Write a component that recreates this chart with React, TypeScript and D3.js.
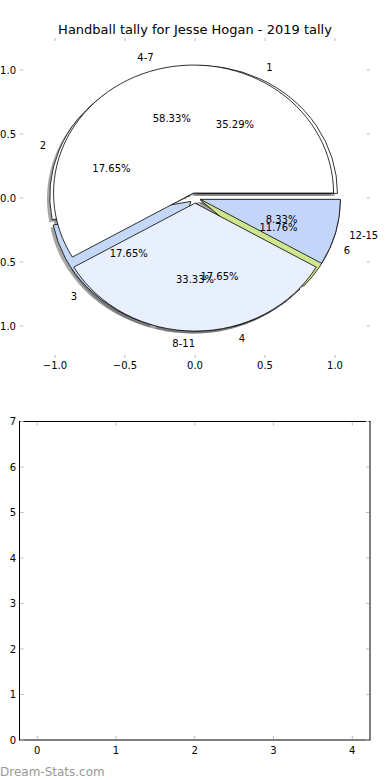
import * as d3 from "d3";
import { useEffect } from "react";

// outer pie: tally per handball count
const countLabels = ["1", "2", "3", "4", "6"];
const countValues = [6, 3, 3, 3, 2];
const countColors = ["#ffffff", "#ffffff", "#c5d8f8", "#e8f0fd", "#d0e68d"];
const countExplode = 0.04;

// overlaid pie: tally per range
const rangeLabels = ["4-7", "8-11", "12-15"];
const rangeValues = [7, 4, 1];
const rangeColors = ["#ffffff", "#e9f0fd", "#c3d6f9"];
const rangeExplode = 0.04;

const pieTicks = [-1.0, -0.5, 0.0, 0.5, 1.0];
const barXTicks = [0, 1, 2, 3, 4];
const barYTicks = [0, 1, 2, 3, 4, 5, 6, 7];

const title = "Handball tally for Jesse Hogan - 2019 tally";
const FONT = "DejaVu Sans, sans-serif";

type Wedge = {
  label: string;
  value: number;
  color: string;
  t1: number;
  t2: number;
  mid: number;
  frac: number;
  explode: number;
};

function buildWedges(labels: string[], values: number[], colors: string[], explode: number): Wedge[] {
  const total = d3.sum(values);
  let acc = 0;
  return values.map((v, i) => {
    const t1 = (acc / total) * 2 * Math.PI;
    acc += v;
    const t2 = (acc / total) * 2 * Math.PI;
    return { label: labels[i], value: v, color: colors[i], t1, t2, mid: (t1 + t2) / 2, frac: v / total, explode };
  });
}

export default function App() {
  useEffect(() => {
    document.body.style.margin = "0";
  }, []);

  const W = 390;
  const H = 780;

  const xPie = d3.scaleLinear().domain([-1.25, 1.25]).range([20, 370]);
  const yPie = d3.scaleLinear().domain([-1.25, 1.25]).range([358, 38]);
  const sx = xPie(1) - xPie(0);
  const sy = yPie(0) - yPie(1);

  const xBar = d3.scaleLinear().domain([-0.225, 4.225]).range([19.5, 370]);
  const yBar = d3.scaleLinear().domain([0, 7]).range([740, 421.5]);

  const arc = d3.arc<Wedge>()
    .innerRadius(0)
    .outerRadius(1)
    .startAngle((d) => Math.PI / 2 - d.t1)
    .endAngle((d) => Math.PI / 2 - d.t2);

  const pieA = buildWedges(countLabels, countValues, countColors, countExplode);
  const pieB = buildWedges(rangeLabels, rangeValues, rangeColors, rangeExplode);
  const all = [...pieA, ...pieB];

  const off = (w: Wedge) => [w.explode * Math.cos(w.mid), w.explode * Math.sin(w.mid)];
  const wedgeTransform = (w: Wedge, dx = 0, dy = 0) => {
    const [ox, oy] = off(w);
    return `translate(${xPie(ox + dx)},${yPie(oy + dy)}) scale(${sx},${sy})`;
  };

  return (
    <svg width={W} height={H} style={{ display: "block", background: "#fff" }} fontFamily={FONT}>
      <text x={195} y={34} textAnchor="middle" fontSize={13}>{title}</text>

      {/* pie axes ticks (frame off) */}
      {pieTicks.map((t) => (
        <g key={"px" + t} stroke="#bbb" strokeWidth={1}>
          <line x1={xPie(t)} x2={xPie(t)} y1={yPie(1.25)} y2={yPie(1.25) + 3} />
          <line x1={xPie(t)} x2={xPie(t)} y1={yPie(-1.25)} y2={yPie(-1.25) - 3} />
          <line x1={xPie(-1.25)} x2={xPie(-1.25) + 3} y1={yPie(t)} y2={yPie(t)} />
          <line x1={xPie(1.25)} x2={xPie(1.25) - 3} y1={yPie(t)} y2={yPie(t)} />
        </g>
      ))}
      {pieTicks.map((t) => (
        <text key={"pxl" + t} x={xPie(t)} y={yPie(-1.25) + 11} textAnchor="middle" fontSize={10}>
          {d3.format(".1f")(t).replace("-", "\u2212")}
        </text>
      ))}
      {pieTicks.map((t) => (
        <text key={"pyl" + t} x={16} y={yPie(t)} dy="0.35em" textAnchor="end" fontSize={10}>
          {d3.format(".1f")(t).replace("-", "\u2212")}
        </text>
      ))}

      {/* shadows */}
      {all.map((w, i) => (
        <path key={"s" + i} d={arc(w) ?? ""} transform={wedgeTransform(w, -0.02, -0.02)} fill="#4d4d4d" fillOpacity={0.5} />
      ))}
      {/* wedges */}
      {all.map((w, i) => (
        <path key={"w" + i} d={arc(w) ?? ""} transform={wedgeTransform(w)} fill={w.color} stroke="#000" strokeWidth={0.8} vectorEffect="non-scaling-stroke" />
      ))}
      {/* labels */}
      {all.map((w, i) => {
        const [ox, oy] = off(w);
        const lx = ox + 1.1 * Math.cos(w.mid);
        const ly = oy + 1.1 * Math.sin(w.mid);
        const px = ox + 0.6 * Math.cos(w.mid);
        const py = oy + 0.6 * Math.sin(w.mid);
        return (
          <g key={"l" + i} fontSize={10}>
            <text x={xPie(lx)} y={yPie(ly)} dy="0.35em" textAnchor={Math.cos(w.mid) > 1e-9 ? "start" : "end"}>{w.label}</text>
            <text x={xPie(px)} y={yPie(py)} dy="0.35em" textAnchor="middle">{(w.frac * 100).toFixed(2)}%</text>
          </g>
        );
      })}

      {/* empty lower axes */}
      <rect x={xBar(-0.225)} y={yBar(7)} width={xBar(4.225) - xBar(-0.225)} height={yBar(0) - yBar(7)} fill="none" stroke="#000" strokeWidth={1} />
      {barXTicks.map((t) => (
        <g key={"bx" + t}>
          <line x1={xBar(t)} x2={xBar(t)} y1={yBar(0) - 1} y2={yBar(0) - 4} stroke="#bbb" />
          <line x1={xBar(t)} x2={xBar(t)} y1={yBar(7) + 1} y2={yBar(7) + 4} stroke="#bbb" />
          <text x={xBar(t)} y={yBar(0) + 14} textAnchor="middle" fontSize={10}>{t}</text>
        </g>
      ))}
      {barYTicks.map((t) => (
        <g key={"by" + t}>
          <line x1={xBar(-0.225) + 1} x2={xBar(-0.225) + 4} y1={yBar(t)} y2={yBar(t)} stroke="#bbb" />
          <line x1={xBar(4.225) - 1} x2={xBar(4.225) - 4} y1={yBar(t)} y2={yBar(t)} stroke="#bbb" />
          <text x={16} y={yBar(t)} dy="0.35em" textAnchor="end" fontSize={10}>{t}</text>
        </g>
      ))}

      <text x={0} y={776} fontSize={12} fill="#999">Dream-Stats.com</text>
    </svg>
  );
}
